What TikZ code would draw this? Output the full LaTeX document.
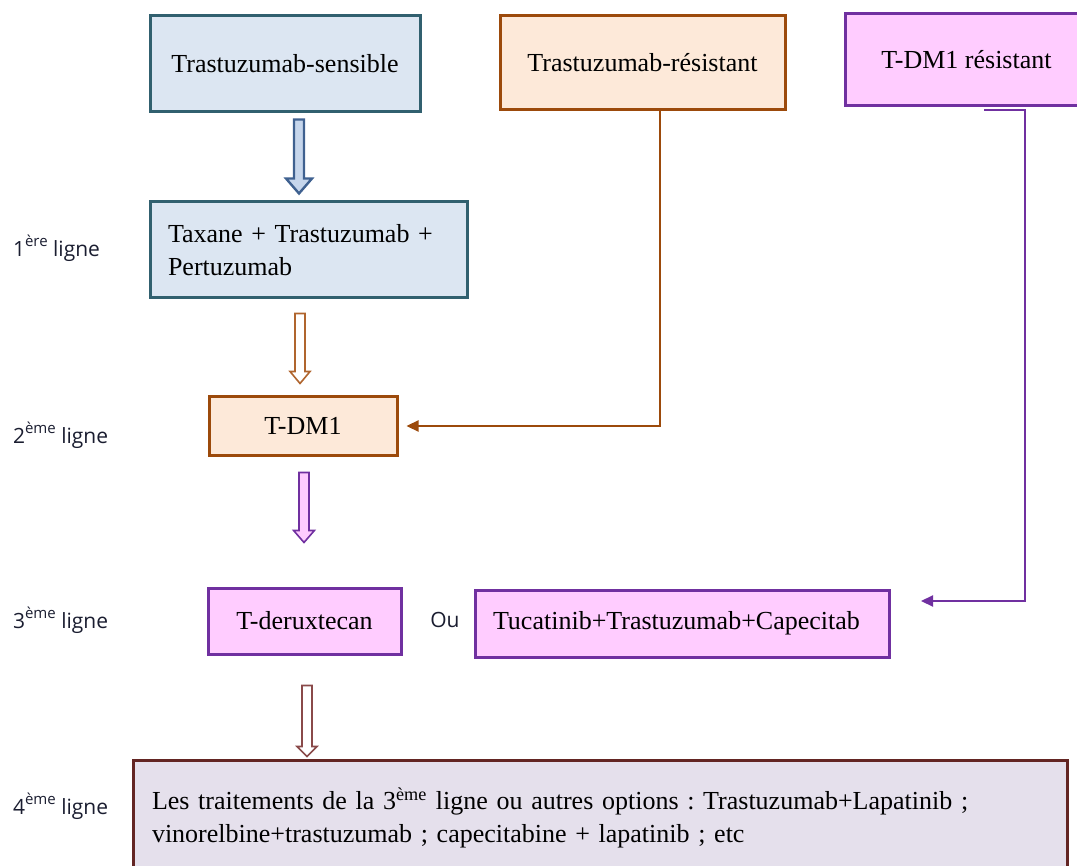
\documentclass[tikz,border=0pt]{standalone}
\usepackage{fontspec}
\setmainfont{Liberation Serif}
\newfontfamily\lignefont{Open Sans}
\usetikzlibrary{arrows.meta,positioning,calc}
\frenchspacing
\definecolor{sensfill}{HTML}{DCE6F2}
\definecolor{sensdraw}{HTML}{31606F}
\definecolor{sensarrow}{HTML}{3F6190}
\definecolor{sensarrowfill}{HTML}{C6D6EC}
\definecolor{resfill}{HTML}{FDE9D9}
\definecolor{resdraw}{HTML}{9C4A0B}
\definecolor{resarrow}{HTML}{B0652E}
\definecolor{tdmfill}{HTML}{FFCCFF}
\definecolor{tdmdraw}{HTML}{7030A0}
\definecolor{lastfill}{HTML}{E5E0EC}
\definecolor{lastdraw}{HTML}{632523}
\definecolor{lastarrow}{HTML}{8A4A4A}
\definecolor{lignetext}{HTML}{1A1D30}
% small raised ordinal of the row labels
\newcommand{\rangsup}[1]{\raisebox{0.9ex}{\fontsize{7.5}{8}\selectfont #1}}
\tikzset{
  box/.style={draw, line width=1.5pt, inner sep=0pt,
    font=\fontsize{13}{16.5}\selectfont},
  sensbox/.style={box, draw=sensdraw, fill=sensfill},
  resbox/.style={box, draw=resdraw, fill=resfill},
  tdmbox/.style={box, draw=tdmdraw, fill=tdmfill},
  lastbox/.style={box, draw=lastdraw, fill=lastfill},
  ligne/.style={anchor=west, font=\lignefont\fontsize{10.5}{12}\selectfont,
    text=lignetext},
  conn/.style={line width=1.1pt, -{Triangle[length=6pt,width=5.5pt]}},
  % hollow block arrows between the stages
  fat/.style={line width=0.8pt, line join=miter},
}
% block arrow: style, top point, tip point, half head width, head length
\newcommand{\fatarrow}[5]{%
  \draw[fat,#1] let \p1=#2, \p2=#3 in
    (\x1-2.5pt,\y1) -- (\x1+2.5pt,\y1) -- (\x1+2.5pt,\y2+#5)
    -- (\x1+#4,\y2+#5) -- (\x2,\y2) -- (\x1-#4,\y2+#5)
    -- (\x1-2.5pt,\y2+#5) -- cycle;}

\begin{document}
\begin{tikzpicture}[x=0.5pt,y=-0.5pt]
  \useasboundingbox (0,0) rectangle (1077,866);

  % first row : starting situations
  \node[sensbox, minimum width=135pt, minimum height=48pt] (sens) at (285,64) {Trastuzumab-sensible};
  \node[resbox, minimum width=142.5pt, minimum height=47pt] (resis) at (642.5,63) {Trastuzumab-résistant};
  \node[tdmbox, minimum width=121.5pt, minimum height=46pt] (tdmres) at (966.5,60) {T-DM1 résistant};

  % lines of treatment
  \node[sensbox, minimum width=158.5pt, minimum height=48pt, text width=140.5pt, align=left] (tax) at (308.5,250)
    {Taxane + Trastuzumab +\\Pertuzumab};
  \node[resbox, minimum width=94pt, minimum height=29pt] (tdm) at (303,426) {T-DM1};
  \node[tdmbox, minimum width=96.5pt, minimum height=33pt] (tdx) at (304.5,621) {T-deruxtecan};
  \node[font=\lignefont\fontsize{10.5}{12}\selectfont, text=lignetext] (ou) at (445,620) {Ou};
  \node[tdmbox, minimum width=207pt, minimum height=33.5pt, text width=189pt, align=left] (tuc) at (682,623.5)
    {\raisebox{3pt}{Tucatinib+Trastuzumab+Capecitab}};
  \node[lastbox, minimum width=467pt, minimum height=58pt, text width=448pt, align=left] (last) at (600,818)
    {Les traitements de la 3\textsuperscript{ème} ligne ou autres options : Trastuzumab+Lapatinib ;\\
     vinorelbine+trastuzumab ; capecitabine + lapatinib ; etc};

  % row labels
  \node[ligne] (l1) at (6,248) {1\rangsup{ère} ligne};
  \node[ligne] (l2) at (6,435) {2\rangsup{ème} ligne};
  \node[ligne] (l3) at (6,620) {3\rangsup{ème} ligne};
  \node[ligne] (l4) at (6,806) {4\rangsup{ème} ligne};

  % columns of the block arrows and bends of the side connectors
  \coordinate (colA) at (299,0);
  \coordinate (colB) at (300,0);
  \coordinate (colC) at (304,0);
  \coordinate (colD) at (307,0);
  \coordinate (rbend) at (660,426);
  \coordinate (pstart) at (984,110);
  \coordinate (pbend) at (1025,601);
  \coordinate (ptip) at (921,601);

  \fatarrow{draw=sensarrow, fill=sensarrowfill, line width=1.2pt}{([yshift=-3pt]sens.south -| colA)}{([yshift=3.5pt]tax.north -| colA)}{6.5pt}{7.5pt}
  \fatarrow{draw=resarrow, fill=white}{([yshift=-7pt]tax.south -| colB)}{([yshift=6pt]tdm.north -| colB)}{5pt}{6pt}
  \fatarrow{draw=tdmdraw, fill=tdmfill}{([yshift=-8pt]tdm.south -| colC)}{([yshift=22pt]tdx.north -| colC)}{5.2pt}{6pt}
  \fatarrow{draw=lastarrow, fill=white}{([yshift=-15pt]tdx.south -| colD)}{([yshift=1pt]last.north -| colD)}{5pt}{5pt}

  % side connectors
  \draw[conn, resdraw] (resis.south -| rbend) -- (rbend) -- ([xshift=4pt]tdm.east);
  \draw[conn, tdmdraw] (pstart) -| (pbend) -- (ptip);
\end{tikzpicture}
\end{document}
